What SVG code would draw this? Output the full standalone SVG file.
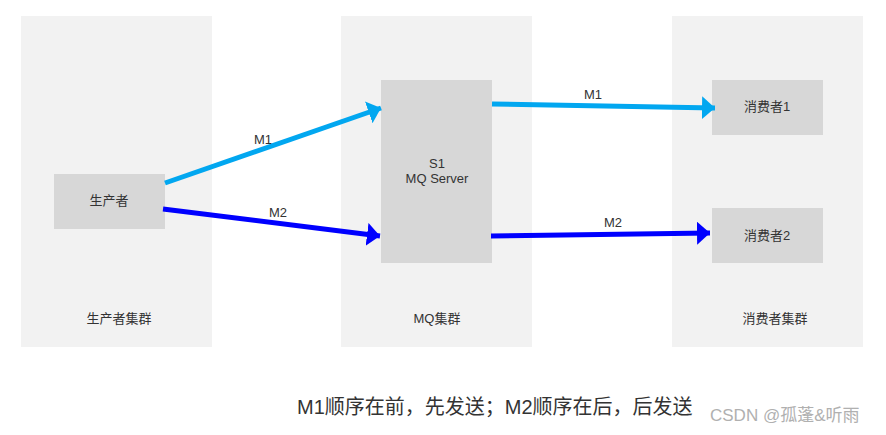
<svg xmlns="http://www.w3.org/2000/svg" width="886" height="435" viewBox="0 0 886 435">
  <style>
    .cluster { fill: #f2f2f2; }
    .box { fill: #d7d7d7; }
    .t { font-family: "Liberation Sans", "Noto Sans CJK SC", sans-serif; font-size: 13px; fill: #333333; text-anchor: middle; }
    .m1 { stroke: #02a7f0; stroke-width: 5; fill: none; }
    .m2 { stroke: #0000ff; stroke-width: 5; fill: none; }
    .cap { font-family: "Liberation Sans", "Noto Sans CJK SC", sans-serif; font-size: 20px; fill: #333333; }
    .wm { font-family: "Liberation Sans", "Noto Sans CJK SC", sans-serif; font-size: 17px; fill: #b0b0b0; }
  </style>
  <defs>
    <marker id="a1" markerUnits="userSpaceOnUse" markerWidth="15" markerHeight="25" refX="13" refY="11.5" orient="auto">
      <path d="M0,0 L13,11.5 L0,23 Z" fill="#02a7f0"/>
    </marker>
    <marker id="a2" markerUnits="userSpaceOnUse" markerWidth="15" markerHeight="25" refX="13" refY="11.5" orient="auto">
      <path d="M0,0 L13,11.5 L0,23 Z" fill="#0000ff"/>
    </marker>
  </defs>
  <rect width="886" height="435" fill="#ffffff"/>

  <g id="producer-cluster">
    <rect class="cluster" x="21" y="16" width="191" height="331"/>
    <text class="t" x="119" y="323">生产者集群</text>
  </g>
  <g id="mq-cluster">
    <rect class="cluster" x="341" y="16" width="191" height="331"/>
    <text class="t" x="437" y="323">MQ集群</text>
  </g>
  <g id="consumer-cluster">
    <rect class="cluster" x="672" y="16" width="191" height="331"/>
    <text class="t" x="775" y="323">消费者集群</text>
  </g>

  <g id="producer">
    <rect class="box" x="54" y="174" width="111" height="55"/>
    <text class="t" x="109" y="205">生产者</text>
  </g>
  <g id="mq-server">
    <rect class="box" x="381" y="80" width="111" height="183"/>
    <text class="t" x="437" y="168">S1</text>
    <text class="t" x="437" y="183">MQ Server</text>
  </g>
  <g id="consumer1">
    <rect class="box" x="712" y="80" width="111" height="55"/>
    <text class="t" x="767" y="111">消费者1</text>
  </g>
  <g id="consumer2">
    <rect class="box" x="712" y="208" width="111" height="55"/>
    <text class="t" x="767" y="240">消费者2</text>
  </g>

  <g id="connectors">
    <path class="m1" d="M165,183 L381,108" marker-end="url(#a1)"/>
    <text class="t" x="263" y="144">M1</text>
    <path class="m2" d="M163,209 L380,236" marker-end="url(#a2)"/>
    <text class="t" x="278" y="217">M2</text>
    <path class="m1" d="M492,104 L715,108" marker-end="url(#a1)"/>
    <text class="t" x="593" y="99">M1</text>
    <path class="m2" d="M491,236 L710,233" marker-end="url(#a2)"/>
    <text class="t" x="613" y="227">M2</text>
  </g>

  <text class="cap" x="297" y="414">M1顺序在前，先发送；M2顺序在后，后发送</text>
  <text class="wm" x="710" y="421">CSDN @孤蓬&amp;听雨</text>
</svg>
